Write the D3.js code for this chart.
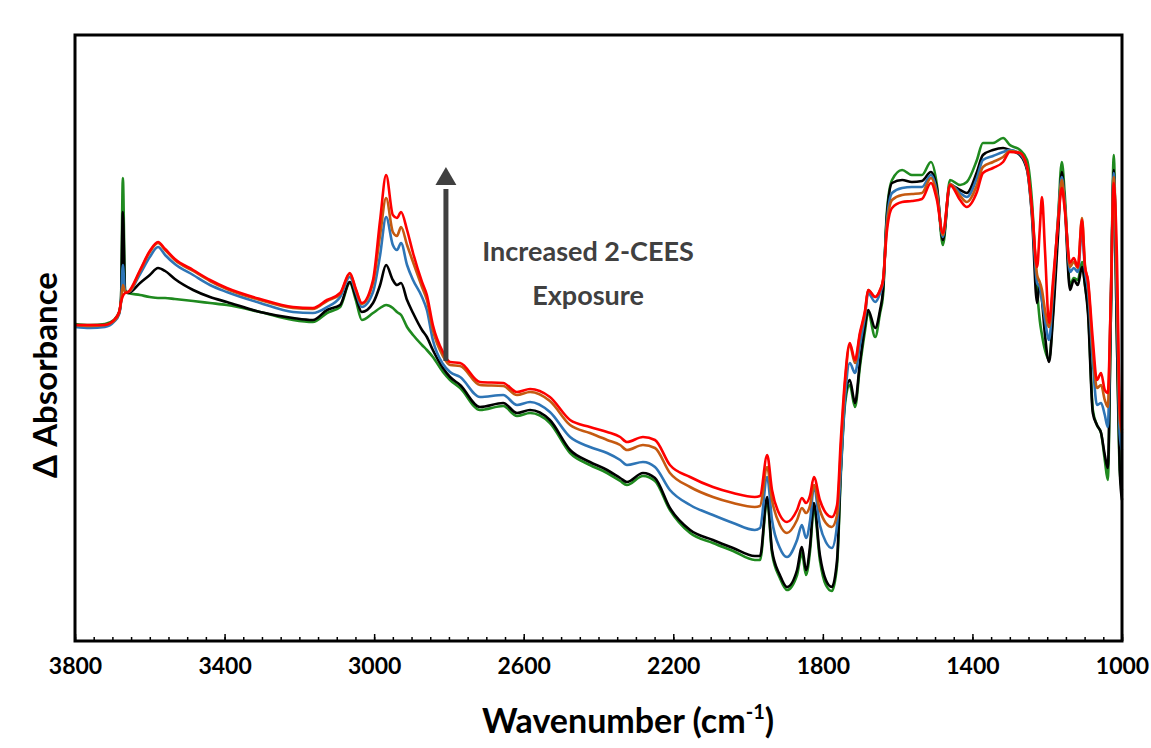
<!DOCTYPE html>
<html>
<head>
<meta charset="utf-8">
<script src="https://cdn.jsdelivr.net/npm/d3@7"></script>
<style>
  body { margin: 0; background: #fff; }
  text { font-family: Lato, "Open Sans", sans-serif; font-weight: bold; }
</style>
</head>
<body>
<svg id="chart" width="1151" height="748"></svg>
<script>
// wavenumbers (cm-1), shared by all five spectra
var wavenumbers = [3800,3760,3720,3696,3682,3677,3672,3666,3658,3626,3600,3578,3559,3533,3484,3439,3394,3305,3217,3164,
  3126,3091,3065,3049,3033,3003,2984,2968,2950,2939,2928,2912,2896,2872,2859,2843,2816,2797,2770,2717,
  2655,2618,2583,2530,2476,2423,2377,2342,2324,2281,2249,2209,2155,2094,2040,1982,1968,1949,1936,1915,
  1896,1869,1856,1845,1834,1824,1808,1792,1776,1762,1752,1741,1728,1714,1701,1687,1679,1660,1647,1639,
  1629,1615,1588,1562,1535,1511,1495,1479,1460,1433,1415,1388,1372,1345,1318,1300,1273,1254,1241,1227,
  1220,1214,1206,1195,1185,1171,1161,1153,1139,1129,1118,1107,1099,1091,1078,1067,1056,1046,1038,1030,
  1022,1014,1006,1000];

// delta absorbance, arbitrary units (no y ticks on the original)
var greenSeries = [317,316,317,321,329,341,463,351,348,346,344,343,343,342,340,338,336,329,321,319,
  328,334,358,341,321,328,333,336,333,329,326,314,306,296,291,284,269,261,253,231,
  235,225,228,218,188,176,168,160,156,165,160,131,108,98,90,81,81,141,88,63,
  51,66,88,66,91,134,81,56,50,76,166,236,256,234,274,311,329,304,328,346,
  428,461,471,466,466,479,456,396,461,456,459,481,498,498,503,496,491,481,441,351,
  321,306,291,281,326,421,479,446,356,363,361,379,356,331,231,216,208,181,161,321,
  486,311,171,151];
var blackSeries = [316,315,316,320,328,341,429,349,348,358,366,373,370,362,351,344,339,329,323,321,
  331,336,359,344,329,338,356,376,361,356,358,341,328,311,304,291,273,264,256,234,
  238,228,231,221,191,179,171,163,159,168,163,133,111,101,93,85,85,144,91,66,
  54,71,94,71,96,138,86,61,54,81,171,241,261,238,278,316,331,313,331,351,
  424,458,461,459,460,469,453,401,456,451,448,469,486,491,493,491,486,471,426,338,
  358,341,306,279,321,406,469,436,351,361,356,374,356,328,228,216,208,186,173,321,
  471,311,171,141];
var blueSeries = [314,313,314,319,327,339,376,349,349,367,384,394,386,377,366,356,349,338,329,328,
  334,344,364,349,334,349,386,424,396,391,398,376,361,344,331,301,277,269,264,244,
  246,236,239,229,204,194,188,181,176,179,174,151,136,126,118,111,113,164,121,93,
  84,101,116,103,121,154,116,99,93,116,171,241,278,268,296,326,348,339,348,359,
  419,448,453,454,454,466,449,404,457,448,444,463,481,485,489,491,487,473,429,358,
  354,341,321,301,346,423,464,438,369,373,369,411,371,351,279,236,238,226,214,341,
  468,341,206,191];
var orangeSeries = [316,315,316,320,328,339,356,349,349,370,389,398,391,381,370,360,352,341,333,332,
  340,347,367,351,337,358,406,443,409,405,414,396,379,354,341,311,285,276,275,256,
  255,246,249,240,216,208,201,196,191,196,193,168,154,144,138,134,135,174,141,116,
  108,121,133,128,136,156,131,118,114,126,191,256,296,278,306,329,351,344,351,361,
  414,441,446,447,448,463,446,406,457,445,439,456,474,479,484,490,488,474,431,366,
  359,351,331,314,351,421,461,436,374,379,373,423,376,359,291,253,256,241,234,341,
  464,361,221,208];
var redSeries = [316,316,316,321,329,339,345,348,349,371,390,399,392,382,371,361,353,342,334,333,
  341,348,368,352,338,361,421,466,426,423,429,411,388,359,346,316,289,279,278,259,
  258,249,252,244,221,214,209,204,199,204,201,176,164,154,148,144,145,186,151,126,
  119,131,143,138,146,164,141,128,124,136,201,261,298,281,308,331,351,344,351,361,
  409,433,439,440,442,458,441,408,456,441,434,449,468,473,479,489,488,474,434,374,
  411,444,391,318,358,418,453,431,378,383,374,421,374,361,301,261,268,251,248,341,
  458,391,234,211];

var seriesNames = ["green", "black", "blue", "orange", "red"];
var seriesColors = ["#1f8a1f", "#000000", "#2e75b6", "#c55a11", "#ff0000"];
var allSeries = [greenSeries, blackSeries, blueSeries, orangeSeries, redSeries];

var majorTicks = [3800, 3400, 3000, 2600, 2200, 1800, 1400, 1000];
var minorTicks = d3.range(3800, 999, -50);

var svg = d3.select("#chart");
var margin = {top: 35, right: 29, bottom: 107, left: 75};
var width = 1151 - margin.left - margin.right;
var height = 748 - margin.top - margin.bottom;

var g = svg.append("g").attr("transform", "translate(" + margin.left + "," + margin.top + ")");

var x = d3.scaleLinear().domain([3800, 1000]).range([0, width]);
var y = d3.scaleLinear().domain([0, 606]).range([height, 0]);

// spectra, green first so red ends up on top
var line = d3.line()
  .x(function(d) { return x(d[0]); })
  .y(function(d) { return y(d[1]); })
  .curve(d3.curveMonotoneX);

allSeries.forEach(function(vals, i) {
  var pts = wavenumbers.map(function(w, j) { return [w, vals[j]]; });
  g.append("path")
    .datum(pts)
    .attr("class", "spectrum " + seriesNames[i])
    .attr("fill", "none")
    .attr("stroke", seriesColors[i])
    .attr("stroke-width", 2.6)
    .attr("stroke-linejoin", "round")
    .attr("d", line);
});

// minor + major ticks pointing inward
g.append("g")
  .attr("transform", "translate(0," + height + ")")
  .call(d3.axisBottom(x).tickValues(minorTicks).tickSize(-4).tickFormat(""))
  .call(function(a) { a.select(".domain").remove(); a.selectAll("line").attr("stroke", "#000").attr("stroke-width", 1.5); });

var xAxis = g.append("g")
  .attr("transform", "translate(0," + height + ")")
  .call(d3.axisBottom(x).tickValues(majorTicks).tickSize(-7).tickPadding(13).tickFormat(d3.format("d")));
xAxis.select(".domain").remove();
xAxis.selectAll("line").attr("stroke", "#000").attr("stroke-width", 1.5);
xAxis.selectAll("text").attr("font-size", 23).attr("fill", "#000").attr("dy", "0.85em");

// frame
g.append("rect")
  .attr("width", width).attr("height", height)
  .attr("fill", "none").attr("stroke", "#000").attr("stroke-width", 3);

// axis titles
var xt = svg.append("text")
  .attr("x", 628)
  .attr("y", 733)
  .attr("text-anchor", "middle")
  .attr("font-size", 34)
  .attr("fill", "#000");
xt.append("tspan").text("Wavenumber (cm");
xt.append("tspan").attr("font-size", 20).attr("dy", -14).text("-1");
xt.append("tspan").attr("dy", 14).text(")");

svg.append("text")
  .attr("transform", "translate(57,375) rotate(-90)")
  .attr("text-anchor", "middle")
  .attr("font-size", 33)
  .attr("fill", "#000")
  .text("\u0394 Absorbance");

// annotation arrow + label
var arrowX = 2808;
g.append("line")
  .attr("x1", x(arrowX)).attr("x2", x(arrowX))
  .attr("y1", y(280)).attr("y2", y(452))
  .attr("stroke", "#404040").attr("stroke-width", 5);
g.append("path")
  .attr("d", d3.symbol().type(d3.symbolTriangle).size(190))
  .attr("transform", "translate(" + x(arrowX) + "," + y(462) + ")")
  .attr("fill", "#404040");

var ann = g.append("text")
  .attr("text-anchor", "middle")
  .attr("font-size", 27)
  .attr("fill", "#404040");
ann.append("tspan").attr("x", x(2428)).attr("y", y(380)).text("Increased 2-CEES");
ann.append("tspan").attr("x", x(2428)).attr("y", y(336)).text("Exposure");
</script>
</body>
</html>
